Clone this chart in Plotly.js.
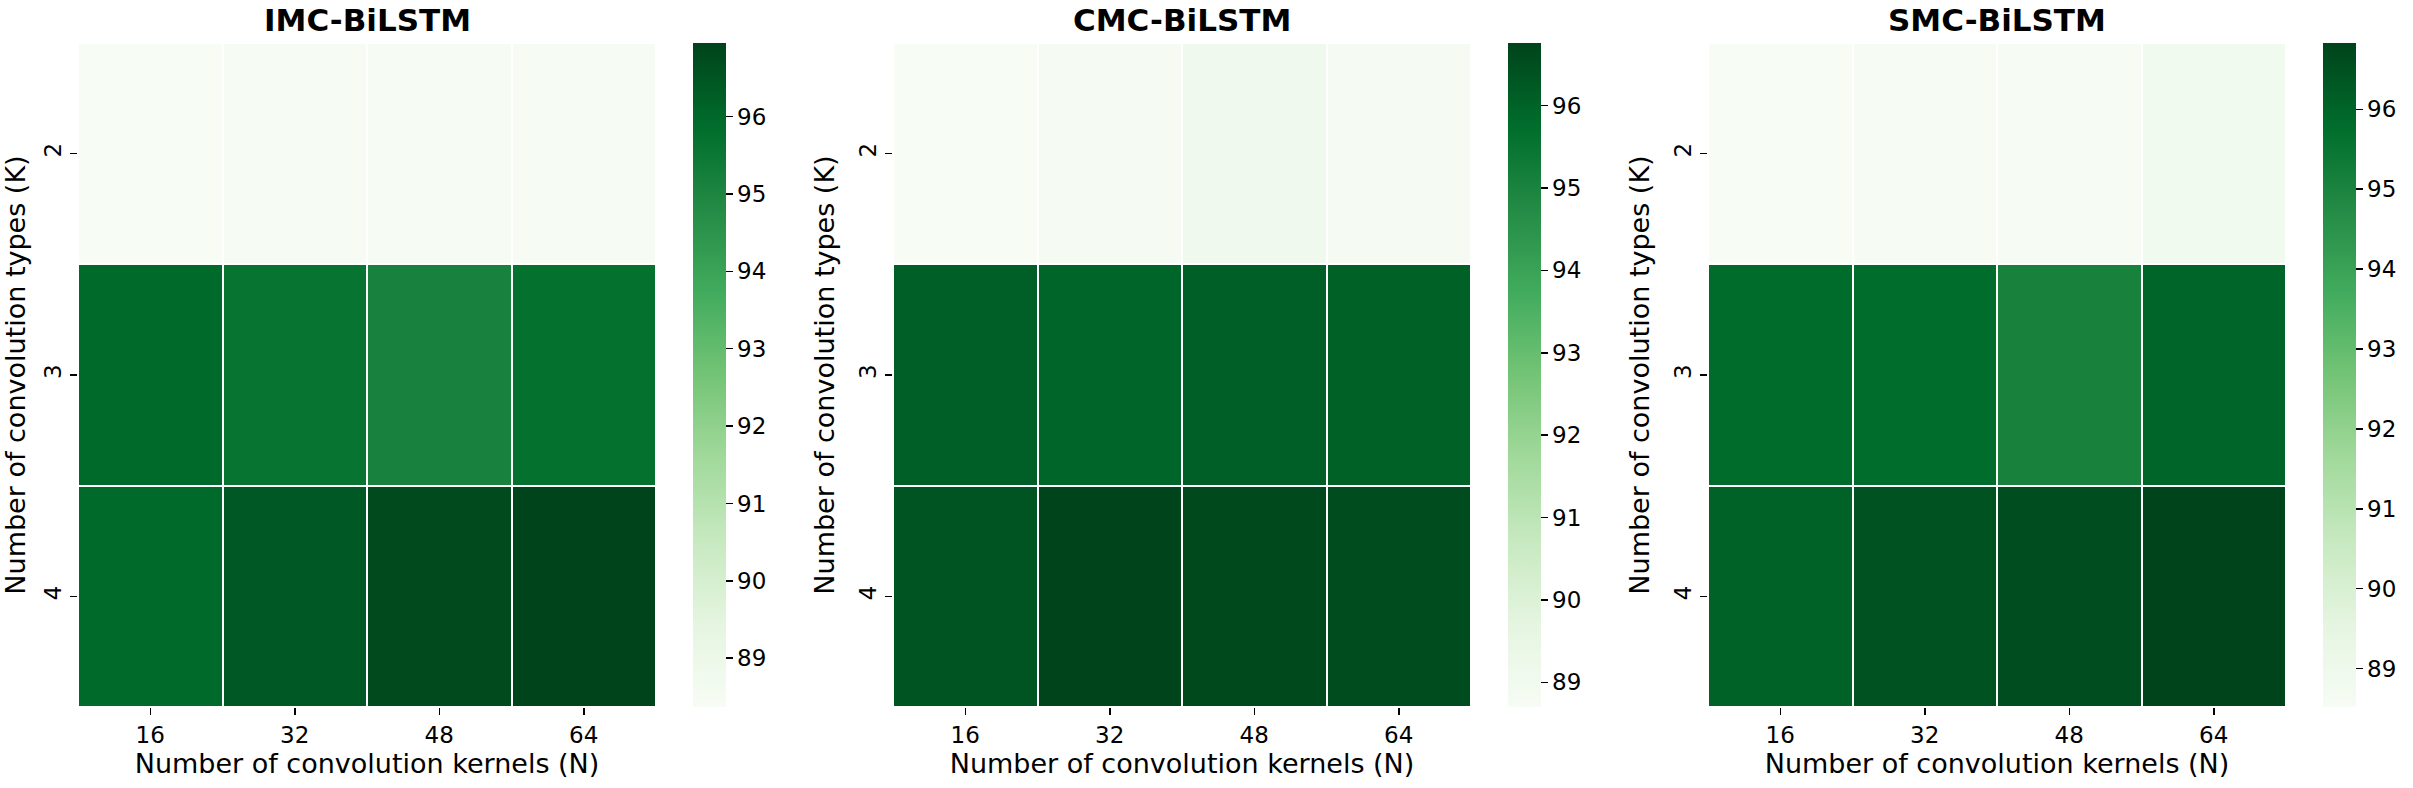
<!DOCTYPE html>
<html>
<head>
<meta charset="utf-8">
<script src="https://cdn.plot.ly/plotly-3.0.1.min.js"></script>
<style>html,body{margin:0;padding:0;background:#fff;}#chart{width:2413px;height:788px;}</style>
</head>
<body>
<div id="chart"></div>
<script>
// ---- data ----
const kernels = ['16', '32', '48', '64'];          // N (x)
const types = ['2', '3', '4'];                      // K (y)
const imcValues = [
  [88.37, 88.42, 88.45, 88.40],
  [95.95, 95.62, 95.16, 95.75],
  [95.95, 96.40, 96.80, 96.95]
];
const cmcValues = [
  [88.70, 88.80, 89.10, 88.80],
  [96.10, 95.95, 96.10, 96.05],
  [96.36, 96.76, 96.64, 96.57]
];
const smcValues = [
  [88.52, 88.58, 88.60, 88.85],
  [95.82, 95.80, 95.08, 96.00],
  [96.08, 96.47, 96.60, 96.83]
];
const panelTitles = ['IMC-BiLSTM', 'CMC-BiLSTM', 'SMC-BiLSTM'];
const colorbarTicks = [89, 90, 91, 92, 93, 94, 95, 96];
const xTitle = 'Number of convolution kernels (N)';
const yTitle = 'Number of convolution types (K)';

// ---- styling ----
const W = 2413, H = 788;
const greens = [
  [0.000, '#f7fcf5'], [0.125, '#e5f5e0'], [0.250, '#c7e9c0'],
  [0.375, '#a1d99b'], [0.500, '#74c476'], [0.625, '#41ab5d'],
  [0.750, '#238b45'], [0.875, '#006d2c'], [1.000, '#00441b']
];
const FONT = 'DejaVu Sans';
const heatLeft = [78, 893, 1708];
const heatWidth = 578;
const cbLeft = [693, 1508, 2323];
const plotTop = 43, plotBottom = 707;
const yDom = [1 - plotBottom / H, 1 - plotTop / H];

const allValues = [imcValues, cmcValues, smcValues];
const traces = [];
const layout = {
  width: W, height: H,
  margin: {l: 0, r: 0, t: 0, b: 0},
  paper_bgcolor: '#ffffff', plot_bgcolor: '#ffffff',
  font: {family: FONT, color: '#000000', size: 23},
  showlegend: false,
  annotations: []
};

allValues.forEach((vals, i) => {
  const sfx = i === 0 ? '' : String(i + 1);
  const flat = vals.flat();
  traces.push({
    type: 'heatmap',
    x: kernels, y: types, z: vals,
    xaxis: 'x' + sfx, yaxis: 'y' + sfx,
    colorscale: greens,
    zmin: Math.min(...flat), zmax: Math.max(...flat),
    xgap: 2, ygap: 2,
    hoverinfo: 'z',
    colorbar: {
      x: cbLeft[i] / W, xanchor: 'left', xref: 'paper',
      y: yDom[0], yanchor: 'bottom', yref: 'paper',
      len: yDom[1] - yDom[0], lenmode: 'fraction',
      thickness: 33, thicknessmode: 'pixels',
      xpad: 0, ypad: 0, outlinewidth: 0,
      tickvals: colorbarTicks, ticktext: colorbarTicks.map(String),
      ticks: 'outside', ticklen: 7, tickwidth: 1.5, tickcolor: '#000',
      tickfont: {family: FONT, size: 23, color: '#000'}
    }
  });
  const x0 = heatLeft[i] / W, x1 = (heatLeft[i] + heatWidth) / W;
  layout['xaxis' + sfx] = {
    domain: [x0, x1], anchor: 'y' + sfx, type: 'category',
    showgrid: false, zeroline: false, showline: false,
    ticks: 'outside', ticklen: 7, tickwidth: 1.5, tickcolor: '#000',
    tickfont: {family: FONT, size: 23},
    title: {text: xTitle, font: {family: FONT, size: 27}, standoff: 4},
    automargin: false
  };
  layout['yaxis' + sfx] = {
    domain: yDom, anchor: 'x' + sfx, type: 'category',
    autorange: 'reversed',
    showgrid: false, zeroline: false, showline: false,
    ticks: 'outside', ticklen: 7, tickwidth: 1.5, tickcolor: '#000',
    tickangle: -90,
    tickfont: {family: FONT, size: 23},
    title: {text: yTitle, font: {family: FONT, size: 27}, standoff: 12},
    automargin: false
  };
  layout.annotations.push({
    text: '<b>' + panelTitles[i] + '</b>',
    xref: 'paper', yref: 'paper',
    x: (x0 + x1) / 2, y: 1 - 20 / H,
    xanchor: 'center', yanchor: 'middle',
    showarrow: false,
    font: {family: FONT, size: 31, color: '#000'}
  });
});

Plotly.newPlot('chart', traces, layout, {displayModeBar: false, staticPlot: true});
</script>
</body>
</html>
